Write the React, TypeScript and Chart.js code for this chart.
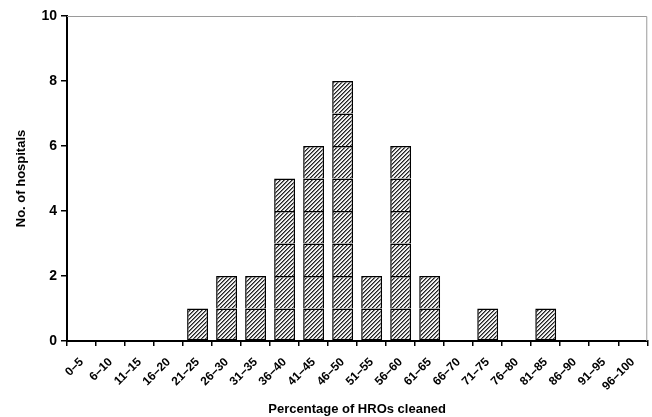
import React, { useEffect, useRef } from "react";
import { Chart, registerables } from "chart.js";

Chart.register(...registerables);

const categories = [
  "0–5", "6–10", "11–15", "16–20", "21–25", "26–30", "31–35", "36–40", "41–45", "46–50",
  "51–55", "56–60", "61–65", "66–70", "71–75", "76–80", "81–85", "86–90", "91–95", "96–100",
];
const hospitalCounts = [0, 0, 0, 0, 1, 2, 2, 5, 6, 8, 2, 6, 2, 0, 1, 0, 1, 0, 0, 0];
const yTicks = [0, 2, 4, 6, 8, 10];

const FONT = 'Arial, "Liberation Sans", sans-serif';

function makeHatch(): CanvasPattern | string {
  const c = document.createElement("canvas");
  c.width = 4;
  c.height = 4;
  const ctx = c.getContext("2d");
  if (!ctx) return "#888";
  ctx.fillStyle = "#f2f2f2";
  ctx.fillRect(0, 0, 4, 4);
  for (let i = 0; i < 4; i++) {
    ctx.fillStyle = "#222";
    ctx.fillRect(i, 3 - i, 1, 1);
    ctx.fillStyle = "#7a7a7a";
    ctx.fillRect(i, (4 - i) % 4, 1, 1);
  }
  const p = ctx.createPattern(c, "repeat");
  return p || "#888";
}

const framePlugin = {
  id: "frame",
  afterDraw(chart: any) {
    const { ctx, chartArea } = chart;
    ctx.save();
    ctx.strokeStyle = "#9a9a9a";
    ctx.lineWidth = 1;
    ctx.beginPath();
    ctx.moveTo(chartArea.left, chartArea.top + 0.5);
    ctx.lineTo(chartArea.right - 0.5, chartArea.top + 0.5);
    ctx.lineTo(chartArea.right - 0.5, chartArea.bottom);
    ctx.stroke();
    ctx.restore();
  },
};

export default function App() {
  const ref = useRef<HTMLCanvasElement>(null);

  useEffect(() => {
    document.body.style.margin = "0";
    const canvas = ref.current;
    if (!canvas) return;
    const hatch = makeHatch();
    const maxLevel = Math.max(...hospitalCounts);
    const datasets = [];
    for (let k = 1; k <= maxLevel; k++) {
      datasets.push({
        label: "level " + k,
        data: hospitalCounts.map((c) => (c >= k ? 1 : null)),
        backgroundColor: hatch,
        borderColor: "#000",
        borderWidth: { top: 1.5, left: 1.5, right: 1.5, bottom: k === 1 ? 1.5 : 0 },
        borderSkipped: false,
        barPercentage: 0.72,
        categoryPercentage: 1,
      });
    }
    const chart = new Chart(canvas, {
      type: "bar",
      data: { labels: categories, datasets: datasets as any },
      options: {
        animation: false,
        responsive: false,
        devicePixelRatio: 1,
        layout: { padding: { top: 16, right: 2, left: 14, bottom: 0 } },
        plugins: { legend: { display: false }, tooltip: { enabled: false } },
        scales: {
          x: {
            stacked: true,
            grid: {
              offset: true,
              drawOnChartArea: false,
              color: "#000",
              tickLength: 5,
              lineWidth: 1.5,
            },
            border: { color: "#000", width: 2 },
            ticks: {
              color: "#000",
              font: { family: FONT, size: 12, weight: "bold" },
              maxRotation: 45,
              minRotation: 45,
              autoSkip: false,
              padding: 9,
            },
            title: {
              display: true,
              text: "Percentage of HROs cleaned",
              color: "#000",
              font: { family: FONT, size: 13, weight: "bold" },
              padding: { top: 0, bottom: 0 },
            },
            afterFit: (s: any) => {
              s.height = 76;
            },
          },
          y: {
            stacked: true,
            min: 0,
            max: 10,
            afterBuildTicks: (s: any) => {
              s.ticks = yTicks.map((v) => ({ value: v }));
            },
            grid: {
              drawOnChartArea: false,
              color: "#000",
              tickLength: 6,
              lineWidth: 1.5,
            },
            border: { color: "#000", width: 2 },
            ticks: {
              color: "#000",
              font: { family: FONT, size: 14, weight: "bold" },
              padding: 4,
            },
            title: {
              display: true,
              text: "No. of hospitals",
              color: "#000",
              font: { family: FONT, size: 13, weight: "bold" },
              padding: { top: 0, bottom: 6 },
            },
            afterFit: (s: any) => {
              s.width = 53;
            },
          },
        },
      },
      plugins: [framePlugin],
    });
    return () => chart.destroy();
  }, []);

  return (
    <div style={{ width: 652, height: 417 }}>
      <canvas ref={ref} width={652} height={417} style={{ display: "block" }} />
    </div>
  );
}
